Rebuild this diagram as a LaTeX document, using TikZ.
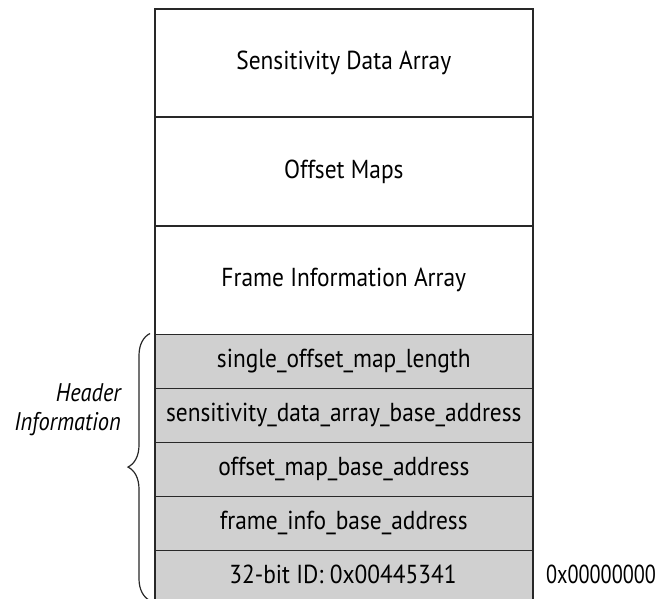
\documentclass[tikz,border=0pt]{standalone}
\usepackage{fontspec}
\setmainfont{PT Sans}[FakeStretch=0.9]
\newfontfamily\addrfont{PT Sans}[FakeStretch=0.78]
\newfontfamily\hdrfont{PT Sans}[FakeStretch=0.88]
\usetikzlibrary{decorations.pathreplacing}
\definecolor{rowgray}{RGB}{208,208,208}
\definecolor{edge}{RGB}{40,40,40}
\tikzset{
  cell/.style={draw=edge, line width=1.6pt, minimum width=378pt, inner sep=0pt, anchor=north west, font=\fontsize{26}{30}\selectfont},
  whitecell/.style={cell, fill=white, minimum height=108.5pt},
  graycell/.style={cell, fill=rowgray, minimum height=54pt},
  lbl/.style={font=\fontsize{26}{30}\selectfont, inner sep=0pt}
}
\begin{document}
\begin{tikzpicture}[x=1pt,y=-1pt]
\useasboundingbox (0,0) rectangle (661,599);
\node[whitecell] (sda) at (154,8) {Sensitivity Data Array};
\node[whitecell] (om) at (154,116.5) {Offset Maps};
\node[whitecell] (fia) at (154,225) {Frame Information Array};
\node[graycell] (h1) at (154,333.5) {single\_offset\_map\_length};
\node[graycell] (h2) at (154,387.5) {sensitivity\_data\_array\_base\_address};
\node[graycell] (h3) at (154,441.5) {offset\_map\_base\_address};
\node[graycell] (h4) at (154,495.5) {frame\_info\_base\_address};
\node[graycell, minimum height=60pt] (h5) at (154,549.5) {};
\node[lbl] (id) at (343,574) {32-bit ID: 0x00445341};
\node[lbl, font=\fontsize{26}{30}\selectfont\addrfont] (addr) at (601,574) {0x00000000};
\node[lbl, anchor=east, align=right, font=\fontsize{25.5}{29}\selectfont\hdrfont\itshape] (hdr) at (121,410) {Header\\Information};
\coordinate (bt) at ([xshift=-4pt]h1.north west);
\coordinate (bb) at ([xshift=-4pt,yshift=10.5pt]h5.south west);
\draw[edge, line width=1.2pt, decoration={brace, amplitude=22pt}, decorate] (bb) -- (bt);
\end{tikzpicture}
\end{document}
